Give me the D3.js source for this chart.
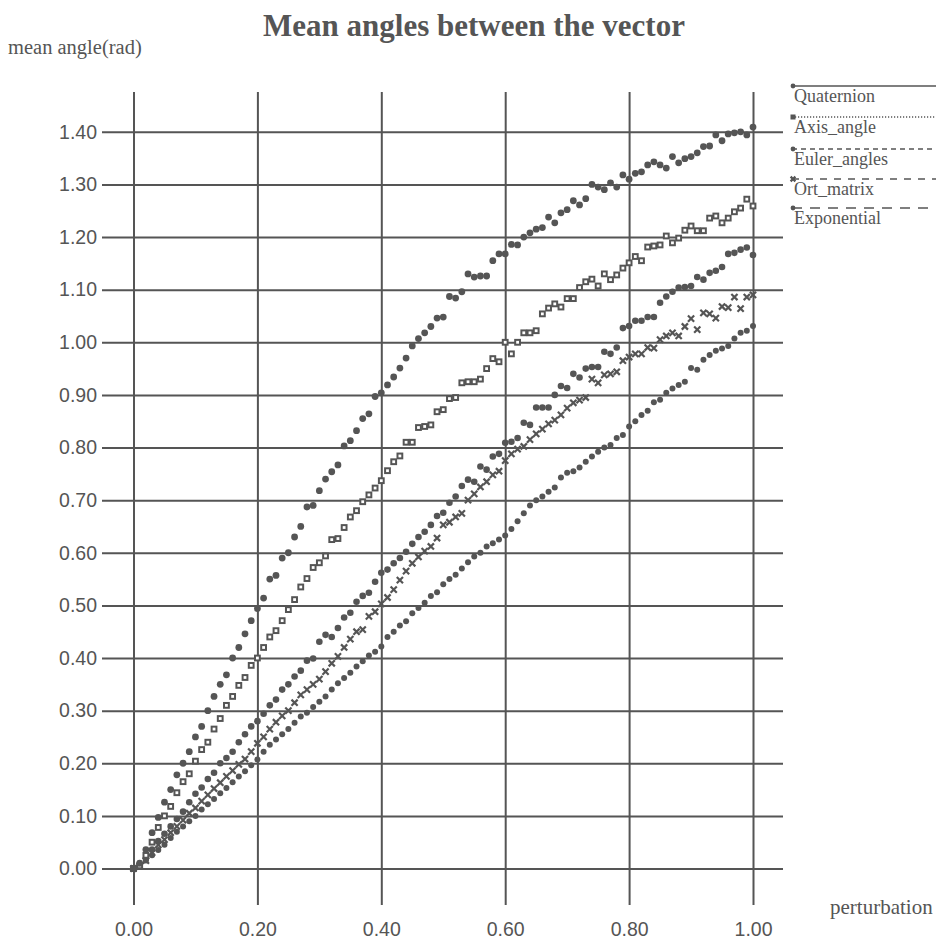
<!DOCTYPE html>
<html>
<head>
<meta charset="utf-8">
<script src="https://cdn.jsdelivr.net/npm/d3@7"></script>
<style>
  body { margin: 0; background: #fff; }
  svg { display: block; }
</style>
</head>
<body>
<div id="chart"></div>
<script>
// perturbation values (x)
const perturbation = [
  0.00, 0.01, 0.02, 0.03, 0.04, 0.05, 0.06, 0.07, 0.08, 0.09,
  0.10, 0.11, 0.12, 0.13, 0.14, 0.15, 0.16, 0.17, 0.18, 0.19,
  0.20, 0.21, 0.22, 0.23, 0.24, 0.25, 0.26, 0.27, 0.28, 0.29,
  0.30, 0.31, 0.32, 0.33, 0.34, 0.35, 0.36, 0.37, 0.38, 0.39,
  0.40, 0.41, 0.42, 0.43, 0.44, 0.45, 0.46, 0.47, 0.48, 0.49,
  0.50, 0.51, 0.52, 0.53, 0.54, 0.55, 0.56, 0.57, 0.58, 0.59,
  0.60, 0.61, 0.62, 0.63, 0.64, 0.65, 0.66, 0.67, 0.68, 0.69,
  0.70, 0.71, 0.72, 0.73, 0.74, 0.75, 0.76, 0.77, 0.78, 0.79,
  0.80, 0.81, 0.82, 0.83, 0.84, 0.85, 0.86, 0.87, 0.88, 0.89,
  0.90, 0.91, 0.92, 0.93, 0.94, 0.95, 0.96, 0.97, 0.98, 0.99,
  1.00
];

// mean angle (rad) per representation
const quaternion = [
  0.000, 0.010, 0.036, 0.068, 0.097, 0.126, 0.150, 0.178, 0.200, 0.222,
  0.250, 0.270, 0.300, 0.327, 0.350, 0.368, 0.400, 0.420, 0.446, 0.471,
  0.494, 0.514, 0.550, 0.557, 0.590, 0.600, 0.630, 0.650, 0.687, 0.690,
  0.718, 0.740, 0.754, 0.767, 0.803, 0.813, 0.832, 0.855, 0.864, 0.897,
  0.904, 0.919, 0.934, 0.951, 0.970, 0.993, 1.007, 1.018, 1.030, 1.046,
  1.048, 1.087, 1.084, 1.096, 1.130, 1.124, 1.126, 1.126, 1.155, 1.168,
  1.168, 1.186, 1.185, 1.200, 1.208, 1.215, 1.218, 1.238, 1.227, 1.246,
  1.252, 1.269, 1.261, 1.273, 1.300, 1.295, 1.290, 1.303, 1.295, 1.318,
  1.310, 1.321, 1.324, 1.337, 1.343, 1.337, 1.331, 1.353, 1.341, 1.349,
  1.353, 1.360, 1.372, 1.373, 1.394, 1.383, 1.396, 1.398, 1.400, 1.394,
  1.409
];

const axisAngle = [
  0.000, 0.005, 0.025, 0.050, 0.078, 0.100, 0.118, 0.144, 0.165, 0.180,
  0.204, 0.226, 0.240, 0.265, 0.285, 0.310, 0.327, 0.348, 0.363, 0.386,
  0.400, 0.420, 0.440, 0.452, 0.471, 0.492, 0.511, 0.535, 0.551, 0.572,
  0.581, 0.594, 0.625, 0.627, 0.648, 0.668, 0.680, 0.697, 0.710, 0.723,
  0.737, 0.756, 0.773, 0.784, 0.810, 0.810, 0.838, 0.840, 0.843, 0.868,
  0.872, 0.893, 0.895, 0.923, 0.925, 0.925, 0.930, 0.950, 0.969, 0.963,
  1.000, 0.978, 1.000, 1.018, 1.018, 1.022, 1.054, 1.065, 1.073, 1.067,
  1.083, 1.083, 1.104, 1.115, 1.120, 1.107, 1.130, 1.119, 1.128, 1.141,
  1.151, 1.163, 1.155, 1.181, 1.183, 1.185, 1.202, 1.189, 1.198, 1.213,
  1.221, 1.212, 1.212, 1.236, 1.240, 1.227, 1.236, 1.248, 1.255, 1.272,
  1.259
];

const eulerAngles = [
  0.000, 0.005, 0.019, 0.036, 0.052, 0.066, 0.080, 0.094, 0.108, 0.126,
  0.142, 0.154, 0.170, 0.182, 0.200, 0.210, 0.222, 0.240, 0.255, 0.270,
  0.280, 0.294, 0.310, 0.321, 0.340, 0.350, 0.365, 0.376, 0.395, 0.399,
  0.431, 0.444, 0.440, 0.457, 0.477, 0.486, 0.507, 0.518, 0.524, 0.545,
  0.562, 0.568, 0.580, 0.590, 0.602, 0.617, 0.630, 0.640, 0.653, 0.670,
  0.676, 0.695, 0.707, 0.727, 0.739, 0.735, 0.764, 0.758, 0.783, 0.788,
  0.809, 0.811, 0.818, 0.847, 0.843, 0.876, 0.876, 0.876, 0.900, 0.917,
  0.913, 0.940, 0.933, 0.950, 0.953, 0.953, 0.982, 0.978, 0.990, 1.027,
  1.031, 1.041, 1.041, 1.048, 1.048, 1.075, 1.087, 1.096, 1.104, 1.105,
  1.107, 1.124, 1.119, 1.132, 1.136, 1.143, 1.168, 1.170, 1.176, 1.180,
  1.166
];

const ortMatrix = [
  0.000, 0.005, 0.015, 0.030, 0.045, 0.055, 0.068, 0.080, 0.092, 0.105,
  0.115, 0.128, 0.140, 0.152, 0.163, 0.175, 0.186, 0.198, 0.208, 0.222,
  0.238, 0.250, 0.265, 0.278, 0.290, 0.300, 0.315, 0.330, 0.340, 0.350,
  0.360, 0.374, 0.390, 0.403, 0.420, 0.436, 0.450, 0.454, 0.479, 0.488,
  0.503, 0.515, 0.530, 0.548, 0.565, 0.580, 0.592, 0.603, 0.612, 0.628,
  0.653, 0.658, 0.668, 0.675, 0.700, 0.712, 0.725, 0.735, 0.748, 0.755,
  0.775, 0.788, 0.797, 0.802, 0.815, 0.826, 0.835, 0.845, 0.852, 0.862,
  0.875, 0.885, 0.890, 0.895, 0.930, 0.923, 0.938, 0.940, 0.944, 0.965,
  0.972, 0.978, 0.978, 0.990, 0.989, 1.005, 1.012, 1.018, 1.012, 1.030,
  1.045, 1.024, 1.056, 1.054, 1.046, 1.068, 1.066, 1.086, 1.064, 1.086,
  1.090
];

const exponential = [
  0.000, 0.005, 0.015, 0.025, 0.035, 0.045, 0.058, 0.070, 0.080, 0.090,
  0.100, 0.112, 0.122, 0.132, 0.143, 0.153, 0.164, 0.175, 0.185, 0.196,
  0.207, 0.222, 0.235, 0.245, 0.255, 0.265, 0.277, 0.289, 0.296, 0.307,
  0.317, 0.327, 0.340, 0.352, 0.362, 0.372, 0.384, 0.394, 0.405, 0.412,
  0.422, 0.440, 0.450, 0.462, 0.470, 0.485, 0.495, 0.505, 0.518, 0.525,
  0.540, 0.550, 0.558, 0.570, 0.582, 0.593, 0.600, 0.612, 0.618, 0.625,
  0.633, 0.645, 0.660, 0.675, 0.690, 0.700, 0.707, 0.716, 0.724, 0.743,
  0.752, 0.755, 0.762, 0.773, 0.783, 0.792, 0.800, 0.805, 0.818, 0.824,
  0.840, 0.850, 0.862, 0.870, 0.886, 0.891, 0.904, 0.912, 0.919, 0.925,
  0.951, 0.948, 0.967, 0.976, 0.984, 0.988, 0.993, 1.007, 1.018, 1.022,
  1.031
];

const seriesNames = ["Quaternion", "Axis_angle", "Euler_angles", "Ort_matrix", "Exponential"];
const xTicks = [0, 0.2, 0.4, 0.6, 0.8, 1.0];
const yTicks = [0, 0.1, 0.2, 0.3, 0.4, 0.5, 0.6, 0.7, 0.8, 0.9, 1.0, 1.1, 1.2, 1.3, 1.4];

const ink = "#555";
const width = 940, height = 944;

const series = [
  { name: seriesNames[0], values: quaternion, marker: "circle", r: 3.4, dash: null },
  { name: seriesNames[1], values: axisAngle, marker: "square", r: 3.4, dash: "1.2,1.8" },
  { name: seriesNames[2], values: eulerAngles, marker: "circle", r: 3.3, dash: "5,4" },
  { name: seriesNames[3], values: ortMatrix, marker: "cross", r: 3.1, dash: "7,7" },
  { name: seriesNames[4], values: exponential, marker: "circle", r: 3.0, dash: "10,8" }
];

const svg = d3.select("#chart").append("svg")
  .attr("width", width)
  .attr("height", height);

const x = d3.scaleLinear().domain([0, 1]).range([133.5, 753]);
const y = d3.scaleLinear().domain([0, 1.4]).range([868.5, 131.8]);

const gridLeft = 102, gridRight = 783, gridTop = 92, gridBottom = 905;

// title + axis titles
svg.append("text")
  .attr("x", 474).attr("y", 36)
  .attr("text-anchor", "middle")
  .style("font-family", "'Liberation Serif', serif")
  .style("font-weight", "bold")
  .style("font-size", "31px")
  .attr("fill", ink)
  .text("Mean angles between the vector");

svg.append("text")
  .attr("x", 8).attr("y", 54)
  .style("font-family", "'Liberation Serif', serif")
  .style("font-size", "20.5px")
  .attr("fill", ink)
  .text("mean angle(rad)");

svg.append("text")
  .attr("x", 830).attr("y", 914)
  .style("font-family", "'Liberation Serif', serif")
  .style("font-size", "21px")
  .attr("fill", ink)
  .text("perturbation");

// y axis with full-width grid
const yAxis = svg.append("g")
  .attr("transform", `translate(${gridLeft},0)`)
  .call(d3.axisLeft(y)
    .tickValues(yTicks)
    .tickSize(-(gridRight - gridLeft))
    .tickPadding(5)
    .tickFormat(d3.format(".2f")));

// x axis with full-height grid
const xAxis = svg.append("g")
  .attr("transform", `translate(0,${gridBottom})`)
  .call(d3.axisBottom(x)
    .tickValues(xTicks)
    .tickSize(-(gridBottom - gridTop))
    .tickPadding(17)
    .tickFormat(d3.format(".2f")));

[yAxis, xAxis].forEach(g => {
  g.select(".domain").remove();
  g.selectAll(".tick line").attr("stroke", ink).attr("stroke-width", 2);
  g.selectAll(".tick text")
    .attr("fill", ink)
    .style("font-family", "'Liberation Sans', Arial, sans-serif")
    .style("font-size", "19.5px");
});

// markers
function drawMarker(g, type, r) {
  if (type === "circle") {
    g.append("circle").attr("r", r).attr("fill", ink);
  } else if (type === "square") {
    g.append("rect")
      .attr("x", -r + 1).attr("y", -r + 1)
      .attr("width", 2 * r - 2).attr("height", 2 * r - 2)
      .attr("fill", "#fff").attr("stroke", ink).attr("stroke-width", 2);
  } else if (type === "cross") {
    g.append("path")
      .attr("d", `M${-r},${-r}L${r},${r}M${-r},${r}L${r},${-r}`)
      .attr("stroke", ink).attr("stroke-width", 2.2).attr("fill", "none");
  }
}

const plot = svg.append("g").attr("class", "points");
series.slice().reverse().forEach(s => {
  const gs = plot.append("g").attr("class", "series");
  s.values.forEach((v, i) => {
    const m = gs.append("g")
      .attr("transform", `translate(${x(perturbation[i])},${y(v)})`);
    drawMarker(m, s.marker, s.r);
  });
});

// legend
const legend = svg.append("g").attr("class", "legend");
const legendY = [86, 117, 149, 179, 208];
series.forEach((s, i) => {
  const ly = legendY[i];
  legend.append("line")
    .attr("x1", 792).attr("x2", 936)
    .attr("y1", ly).attr("y2", ly)
    .attr("stroke", ink)
    .attr("stroke-width", 1.6)
    .attr("stroke-dasharray", s.dash);
  const m = legend.append("g").attr("transform", `translate(793,${ly})`);
  if (s.marker === "square") {
    m.append("rect").attr("x", -2.5).attr("y", -2.5).attr("width", 5).attr("height", 5).attr("fill", ink);
  } else {
    drawMarker(m, s.marker, 2.4);
  }
  legend.append("text")
    .attr("x", 794).attr("y", ly + 16)
    .style("font-family", "'Liberation Serif', serif")
    .style("font-size", "18px")
    .attr("fill", ink)
    .text(s.name);
});
</script>
</body>
</html>
